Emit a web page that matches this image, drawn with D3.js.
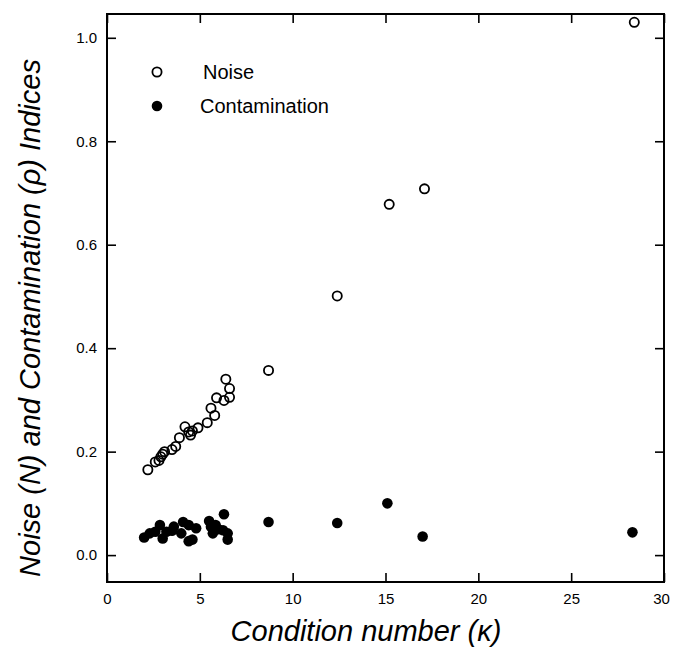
<!DOCTYPE html>
<html>
<head>
<meta charset="utf-8">
<script src="https://cdn.jsdelivr.net/npm/d3@7"></script>
<style>
  body { margin: 0; background: #fff; }
  svg { font-family: "Liberation Sans", Arial, sans-serif; }
</style>
</head>
<body>
<svg width="673" height="655"></svg>
<script>
// x = condition number, y = index value
let noiseX = [2.2, 2.6, 2.8, 2.9, 3.0, 3.1, 3.5, 3.7, 3.9, 4.2, 4.4, 4.5, 4.6, 4.9, 5.4, 5.6, 5.8, 5.9, 6.3, 6.4, 6.6, 6.6, 8.7, 12.4, 15.2, 17.1, 28.4];
let noiseY = [0.165, 0.180, 0.183, 0.190, 0.195, 0.200, 0.204, 0.210, 0.227, 0.248, 0.238, 0.232, 0.240, 0.246, 0.256, 0.284, 0.270, 0.304, 0.299, 0.340, 0.322, 0.305, 0.357, 0.501, 0.678, 0.708, 1.030];

let contX = [2.0, 2.3, 2.6, 2.85, 3.0, 3.2, 3.5, 3.6, 4.0, 4.1, 4.4, 4.4, 4.6, 4.8, 5.5, 5.6, 5.7, 5.85, 6.0, 6.3, 6.25, 6.5, 6.5, 8.7, 12.4, 15.1, 17.0, 28.3];
let contY = [0.034, 0.042, 0.045, 0.058, 0.032, 0.045, 0.047, 0.055, 0.042, 0.064, 0.058, 0.027, 0.030, 0.052, 0.066, 0.055, 0.042, 0.058, 0.050, 0.079, 0.048, 0.042, 0.030, 0.064, 0.062, 0.100, 0.036, 0.044];

let xTicks = [0, 5, 10, 15, 20, 25, 30];
let yTicks = [0.0, 0.2, 0.4, 0.6, 0.8, 1.0];

let plotLeft = 107, plotRight = 664, plotTop = 14, plotBottom = 582;

let xScale = d3.scaleLinear().domain([0, 30]).range([plotLeft, plotRight]);
let yScale = d3.scaleLinear().domain([-0.052, 1.046]).range([plotBottom, plotTop]);

let svg = d3.select('svg');

// frame
svg.append('rect')
  .attr('x', plotLeft).attr('y', plotTop)
  .attr('width', plotRight - plotLeft).attr('height', plotBottom - plotTop)
  .attr('fill', 'none').attr('stroke', '#000').attr('stroke-width', 2);

function styleAxis(g, showText) {
  g.select('.domain').remove();
  g.selectAll('line').attr('stroke', '#000').attr('stroke-width', 1.6);
  g.selectAll('text').style('font-size', '15px').attr('fill', '#000');
  if (!showText) g.selectAll('text').remove();
}

svg.append('g')
  .attr('transform', 'translate(0,' + plotBottom + ')')
  .call(d3.axisBottom(xScale).tickValues(xTicks).tickFormat(d3.format('d')).tickSizeInner(-9).tickSizeOuter(0).tickPadding(11))
  .call(g => styleAxis(g, true))
  .call(g => g.selectAll('text').filter(d => d === 30).attr('dx', -3));

svg.append('g')
  .attr('transform', 'translate(0,' + plotTop + ')')
  .call(d3.axisTop(xScale).tickValues(xTicks).tickSizeInner(-9).tickSizeOuter(0))
  .call(g => styleAxis(g, false));

svg.append('g')
  .attr('transform', 'translate(' + plotLeft + ',0)')
  .call(d3.axisLeft(yScale).tickValues(yTicks).tickFormat(d3.format('.1f')).tickSizeInner(-9).tickSizeOuter(0).tickPadding(10))
  .call(g => styleAxis(g, true));

svg.append('g')
  .attr('transform', 'translate(' + plotRight + ',0)')
  .call(d3.axisRight(yScale).tickValues(yTicks).tickSizeInner(-9).tickSizeOuter(0))
  .call(g => styleAxis(g, false));

// points
svg.append('g').selectAll('circle')
  .data(contX)
  .enter()
  .append('circle')
  .attr('cx', d => xScale(d))
  .attr('cy', (d, i) => yScale(contY[i]))
  .attr('r', 5.3)
  .attr('fill', '#000');

svg.append('g').selectAll('circle')
  .data(noiseX)
  .enter()
  .append('circle')
  .attr('cx', d => xScale(d))
  .attr('cy', (d, i) => yScale(noiseY[i]))
  .attr('r', 4.6)
  .attr('fill', 'none')
  .attr('stroke', '#000')
  .attr('stroke-width', 1.8);

// legend
svg.append('circle')
  .attr('cx', 157).attr('cy', 72).attr('r', 4.6)
  .attr('fill', 'none').attr('stroke', '#000').attr('stroke-width', 1.8);
svg.append('text')
  .attr('x', 203).attr('y', 79)
  .style('font-size', '20px')
  .text('Noise');

svg.append('circle')
  .attr('cx', 157).attr('cy', 106).attr('r', 5.3)
  .attr('fill', '#000');
svg.append('text')
  .attr('x', 200).attr('y', 113)
  .style('font-size', '20px')
  .text('Contamination');

// axis titles
svg.append('text')
  .attr('x', 366)
  .attr('y', 641)
  .style('text-anchor', 'middle')
  .style('font-size', '29px')
  .style('font-style', 'italic')
  .text('Condition number (\u03BA)');

svg.append('text')
  .attr('transform', 'rotate(-90)')
  .attr('x', -318)
  .attr('y', 40)
  .style('text-anchor', 'middle')
  .style('font-size', '29px')
  .style('font-style', 'italic')
  .text('Noise (N) and Contamination (\u03C1) Indices');
</script>
</body>
</html>
